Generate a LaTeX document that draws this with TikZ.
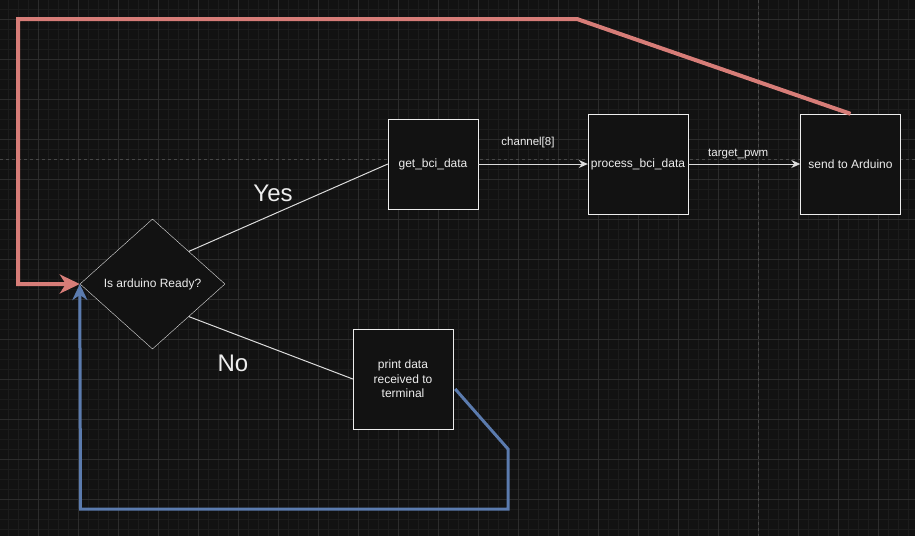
\documentclass[tikz,border=0pt]{standalone}
\usepackage{fontspec}
\setmainfont{Liberation Sans}
\usetikzlibrary{shapes.geometric,arrows.meta}

\definecolor{bgdark}{HTML}{121212}
\definecolor{gridmajor}{HTML}{2C2C2C}
\definecolor{gridminor}{HTML}{1C1C1C}
\definecolor{pagebreak}{HTML}{474747}
\definecolor{linered}{HTML}{D77D78}
\definecolor{lineblue}{HTML}{5B7BAE}
\definecolor{textlight}{HTML}{EDEDED}
\definecolor{edgegray}{HTML}{DCDCDC}

\tikzset{
  stepbox/.style={rectangle,
    draw = textlight,
    text = textlight,
    fill = bgdark,
    inner sep = 2pt,
    align = center,
    font = \fontsize{12}{14.5}\selectfont,
    minimum width = 100pt,
    minimum height = 100pt},
  askbox/.style={diamond,
    draw = edgegray,
    text = textlight,
    fill = bgdark,
    inner sep = 0pt,
    aspect = 1.115,
    font = \fontsize{12}{14.5}\selectfont,
    minimum width = 145pt,
    minimum height = 130pt},
  flowline/.style={draw = edgegray, line width = 1pt},
  flowarrow/.style={flowline, -{Stealth[length=9pt, width=8pt, inset=3pt]}},
  edgelabel/.style={text = textlight, font = \fontsize{11.5}{13}\selectfont},
  answer/.style={text = textlight, font = \fontsize{24}{28}\selectfont},
  loopred/.style={draw = linered, line width = 4pt, line join = miter,
    -{Stealth[length=20pt, width=19pt, inset=6pt]}},
  loopblue/.style={draw = lineblue, line width = 3pt, line join = miter,
    -{Stealth[length=16pt, width=15pt, inset=5pt]}}
}

\begin{document}
\begin{tikzpicture}[x=1pt, y=-1pt]

\useasboundingbox (0,0) rectangle (915,536);
\fill[bgdark] (0,0) rectangle (915,536);

% grid
\foreach \gx in {8.3,18.3,...,910}
  \draw[gridminor, line width=0.8pt] (\gx,0) -- (\gx,536);
\foreach \gy in {9.3,19.3,...,536}
  \draw[gridminor, line width=0.8pt] (0,\gy) -- (915,\gy);
\foreach \gx in {38.3,78.3,...,910}
  \draw[gridmajor, line width=0.8pt] (\gx,0) -- (\gx,536);
\foreach \gy in {19.3,59.3,...,536}
  \draw[gridmajor, line width=0.8pt] (0,\gy) -- (915,\gy);
\draw[pagebreak, dashed, line width=0.8pt] (0,159.3) -- (915,159.3);
\draw[pagebreak, dashed, line width=0.8pt] (758.3,0) -- (758.3,536);

\node[askbox] (ready) at (152.5,284) {Is arduino Ready?};

\node[stepbox,
    minimum width = 90pt,
    minimum height = 90pt] (getdata) at (433,164) {get\_bci\_data};

\node[stepbox] (procdata) at (638,164) {process\_bci\_data};

\node[stepbox] (sendard) at (850.5,164) {send to Arduino};

\node[stepbox] (printdata) at (403,379) {print data\\received to\\terminal};

\node[answer] (yes) at (273,193) {Yes};
\node[answer] (no) at (233,363) {No};

\draw[flowline] (ready.north east) -- (getdata.west);
\draw[flowline] (ready.south east) -- (printdata.west);

\draw[flowarrow] (getdata.east) -- node[edgelabel, xshift=-5pt, yshift=21pt] {channel[8]} (procdata.west);
\draw[flowarrow] (procdata.east) -- node[edgelabel, xshift=-6pt, yshift=10pt] {target\_pwm} (sendard.west);

\draw[loopred] (sendard.north) -- (577,19) -- (18,19) -- (18,284) -- (ready.west);

\draw[loopblue] ([xshift=2pt, yshift=-10pt]printdata.east) -- (508,449) -- (508,509) -- (80.5,509) -- (ready.west);

\end{tikzpicture}
\end{document}
